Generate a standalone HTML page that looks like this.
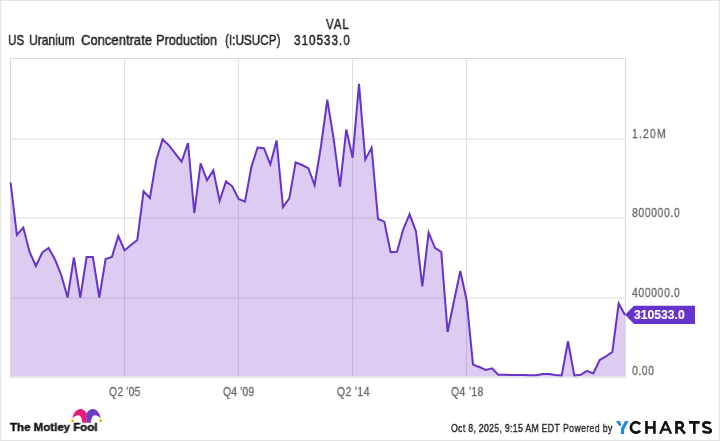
<!DOCTYPE html>
<html><head><meta charset="utf-8">
<style>
html,body{margin:0;padding:0;background:#fff;}
body{width:720px;height:441px;overflow:hidden;position:relative;font-family:"Liberation Sans",sans-serif;}
.frame{position:absolute;left:0;top:0;width:720px;height:441px;box-sizing:border-box;border:1px solid #e3e3e3;}
.t{position:absolute;white-space:nowrap;line-height:1;transform-origin:0 0;will-change:transform;}
.bl{display:inline-block;width:0;height:0;}
svg{position:absolute;left:0;top:0;}
</style></head><body>
<div class="frame"></div>
<svg width="720" height="441" viewBox="0 0 720 441">
  <g stroke="#dedede" stroke-width="1">
    <line x1="11" y1="139" x2="625" y2="139"/>
    <line x1="11" y1="218" x2="625" y2="218"/>
    <line x1="11" y1="298" x2="625" y2="298"/>
    <line x1="124.5" y1="59" x2="124.5" y2="377"/>
    <line x1="238.4" y1="59" x2="238.4" y2="377"/>
    <line x1="352.5" y1="59" x2="352.5" y2="377"/>
    <line x1="466.5" y1="59" x2="466.5" y2="377"/>
  </g>
  <path d="M10.6,182.5 L16.9,235.0 L23.3,227.6 L29.6,252.0 L35.9,266.0 L42.3,252.5 L48.6,248.0 L54.9,259.2 L61.3,275.2 L67.6,297.5 L73.9,257.3 L80.3,297.5 L86.6,257.0 L92.9,257.0 L99.3,297.5 L105.6,259.0 L111.9,257.0 L118.3,236.0 L124.6,250.4 L130.9,245.0 L137.3,240.0 L143.6,191.2 L149.9,198.0 L156.3,160.0 L162.6,139.3 L169.0,145.4 L175.3,153.6 L181.6,161.7 L188.0,143.0 L194.3,213.0 L200.6,163.4 L207.0,180.3 L213.3,170.4 L219.6,200.8 L226.0,181.4 L232.3,186.3 L238.6,199.0 L245.0,201.7 L251.3,167.2 L257.6,147.6 L264.0,148.2 L270.3,164.4 L276.6,140.6 L283.0,207.0 L289.3,198.4 L295.6,162.4 L302.0,165.0 L308.3,168.2 L314.6,185.1 L321.0,146.0 L327.3,99.6 L333.6,138.6 L340.0,186.7 L346.3,129.4 L352.6,157.8 L359.0,83.8 L365.3,159.6 L371.6,147.6 L378.0,219.0 L384.3,221.6 L390.6,252.2 L397.0,251.7 L403.3,229.0 L409.6,214.3 L416.0,231.5 L422.3,286.5 L428.6,232.7 L435.0,247.8 L441.3,252.0 L447.6,332.0 L454.0,301.0 L460.3,271.0 L466.6,300.0 L473.0,364.6 L479.3,367.0 L485.7,370.0 L492.0,368.4 L498.3,374.8 L504.7,374.8 L511.0,374.9 L517.3,375.0 L523.7,375.1 L530.0,375.3 L536.3,375.3 L542.7,374.0 L549.0,374.0 L555.3,375.0 L561.7,375.4 L568.0,341.3 L574.3,375.4 L580.7,374.8 L587.0,370.8 L593.3,373.5 L599.7,360.0 L606.0,356.4 L612.3,352.0 L618.7,303.5 L625.0,314.9 L625.0,376.5 L10.6,376.5 Z" fill="#7333cb" fill-opacity="0.25"/>
  <rect x="10.5" y="58.5" width="615" height="318.7" fill="none" stroke="#dadada" stroke-width="1"/>
  <path d="M10.6,182.5 L16.9,235.0 L23.3,227.6 L29.6,252.0 L35.9,266.0 L42.3,252.5 L48.6,248.0 L54.9,259.2 L61.3,275.2 L67.6,297.5 L73.9,257.3 L80.3,297.5 L86.6,257.0 L92.9,257.0 L99.3,297.5 L105.6,259.0 L111.9,257.0 L118.3,236.0 L124.6,250.4 L130.9,245.0 L137.3,240.0 L143.6,191.2 L149.9,198.0 L156.3,160.0 L162.6,139.3 L169.0,145.4 L175.3,153.6 L181.6,161.7 L188.0,143.0 L194.3,213.0 L200.6,163.4 L207.0,180.3 L213.3,170.4 L219.6,200.8 L226.0,181.4 L232.3,186.3 L238.6,199.0 L245.0,201.7 L251.3,167.2 L257.6,147.6 L264.0,148.2 L270.3,164.4 L276.6,140.6 L283.0,207.0 L289.3,198.4 L295.6,162.4 L302.0,165.0 L308.3,168.2 L314.6,185.1 L321.0,146.0 L327.3,99.6 L333.6,138.6 L340.0,186.7 L346.3,129.4 L352.6,157.8 L359.0,83.8 L365.3,159.6 L371.6,147.6 L378.0,219.0 L384.3,221.6 L390.6,252.2 L397.0,251.7 L403.3,229.0 L409.6,214.3 L416.0,231.5 L422.3,286.5 L428.6,232.7 L435.0,247.8 L441.3,252.0 L447.6,332.0 L454.0,301.0 L460.3,271.0 L466.6,300.0 L473.0,364.6 L479.3,367.0 L485.7,370.0 L492.0,368.4 L498.3,374.8 L504.7,374.8 L511.0,374.9 L517.3,375.0 L523.7,375.1 L530.0,375.3 L536.3,375.3 L542.7,374.0 L549.0,374.0 L555.3,375.0 L561.7,375.4 L568.0,341.3 L574.3,375.4 L580.7,374.8 L587.0,370.8 L593.3,373.5 L599.7,360.0 L606.0,356.4 L612.3,352.0 L618.7,303.5 L625.0,314.9" fill="none" stroke="#6633cc" stroke-width="2" stroke-linejoin="miter"/>
  <path d="M625,314.8 L634,305.8 L695,305.8 L695,323.9 L634,323.9 Z" fill="#6633cc"/>
  <g fill="#1b87e6">
    <path d="M616.1,421.1 L619.8,421.1 L621.3,424.7 Q621,426.6 619.3,425.9 Z"/>
    <path d="M625,421.1 L628.5,421.1 L624.1,429.3 L624.1,433.9 L621,433.9 L621,428.6 Z"/>
  </g>
  <g fill="none" stroke="#111" stroke-width="2.65" stroke-linecap="butt" stroke-linejoin="miter">
    <path d="M640.1,424.1 A5.2,5.2 0 1 0 640.1,430.7"/>
    <path d="M646.5,421.1 V433.7 M654.4,421.1 V433.7 M646.5,427.5 H654.4"/>
    <path d="M659,433.7 L664.5,421.1 L666.7,421.1 L672.2,433.7 L669.6,433.7 L668.4,430.8 L662.8,430.8 L661.6,433.7 Z M663.7,428.6 L665.6,424.2 L667.5,428.6 Z" fill="#111" stroke="none" fill-rule="evenodd"/>
    <path d="M676.5,433.7 V422.3 H680 A2.85,2.85 0 0 1 680,428 H676.5 M680,428 L685,433.7"/>
    <path d="M689,422.3 H699.7 M694.35,422.3 V433.7"/>
    <path d="M710.5,423.8 C709.8,422.7 708.4,422.3 707,422.3 C704.8,422.3 703.3,423.3 703.3,425 C703.3,426.8 705.2,427.3 707,427.8 C709,428.3 710.8,429 710.8,430.9 C710.8,432.5 709,432.5 707,432.5 C705.2,432.5 703.6,432 702.8,430.8"/>
  </g>
  <g>
    <path d="M72.3,418.3 C73.5,413 76.5,409 80.5,409 C83.5,409 85.8,411.5 86.7,413.5 L86.7,422.8 L82.3,422.8 C81.9,418.5 80.8,415.2 78.4,415.2 C76,415.2 73.8,416.8 72.3,418.3 Z" fill="#e81c78"/>
    <path d="M100.9,418.3 C99.7,413 96.7,409 92.7,409 C89.7,409 87.4,411.5 86.5,413.5 L86.5,422.8 L90.9,422.8 C91.3,418.5 92.4,415.2 94.8,415.2 C97.2,415.2 99.4,416.8 100.9,418.3 Z" fill="#6e3cbe"/>
    <circle cx="72.6" cy="420.8" r="1.5" fill="#f5b400"/>
    <circle cx="100.7" cy="420.8" r="1.5" fill="#f5b400"/>
  </g>
</svg>
<div class="t" id="ttl1" style="left:8.30px;top:32.51px;font-size:14.5px;font-weight:400;color:#212121;transform:scaleX(0.8014);letter-spacing:0.000px;-webkit-text-stroke:0.45px #212121;">US<i class="bl"></i></div>
<div class="t" id="ttl2" style="left:29.30px;top:32.51px;font-size:14.5px;font-weight:400;color:#212121;transform:scaleX(0.8342);letter-spacing:0.000px;-webkit-text-stroke:0.45px #212121;">Uranium<i class="bl"></i></div>
<div class="t" id="ttl3" style="left:80.50px;top:32.51px;font-size:14.5px;font-weight:400;color:#212121;transform:scaleX(0.8987);letter-spacing:0.000px;-webkit-text-stroke:0.45px #212121;">Concentrate<i class="bl"></i></div>
<div class="t" id="ttl4" style="left:155.90px;top:32.51px;font-size:14.5px;font-weight:400;color:#212121;transform:scaleX(0.8795);letter-spacing:0.000px;-webkit-text-stroke:0.45px #212121;">Production<i class="bl"></i></div>
<div class="t" id="ttl5" style="left:224.80px;top:32.51px;font-size:14.5px;font-weight:400;color:#212121;transform:scaleX(0.8095);letter-spacing:0.000px;-webkit-text-stroke:0.45px #212121;">(I:USUCP)<i class="bl"></i></div>
<div class="t" id="val" style="left:294.20px;top:32.51px;font-size:14.5px;font-weight:400;color:#212121;transform:scaleX(0.8000);letter-spacing:1.324px;-webkit-text-stroke:0.45px #212121;">310533.0<i class="bl"></i></div>
<div class="t" id="valh" style="left:326.40px;top:16.51px;font-size:14.5px;font-weight:400;color:#212121;transform:scaleX(0.8000);letter-spacing:1.120px;-webkit-text-stroke:0.45px #212121;">VAL<i class="bl"></i></div>
<div class="t" id="y12" style="left:631.60px;top:126.51px;font-size:13px;font-weight:400;color:#666666;transform:scaleX(0.8000);letter-spacing:1.461px;-webkit-text-stroke:0.3px #666666;">1.20M<i class="bl"></i></div>
<div class="t" id="y800" style="left:632.00px;top:205.91px;font-size:13px;font-weight:400;color:#666666;transform:scaleX(0.8000);letter-spacing:0.779px;-webkit-text-stroke:0.3px #666666;">800000.0<i class="bl"></i></div>
<div class="t" id="y400" style="left:632.00px;top:285.91px;font-size:13px;font-weight:400;color:#666666;transform:scaleX(0.8000);letter-spacing:0.800px;-webkit-text-stroke:0.3px #666666;">400000.0<i class="bl"></i></div>
<div class="t" id="y0" style="left:632.40px;top:364.41px;font-size:13px;font-weight:400;color:#666666;transform:scaleX(0.8000);letter-spacing:0.759px;-webkit-text-stroke:0.3px #666666;">0.00<i class="bl"></i></div>
<div class="t" id="q205" style="left:109.00px;top:384.51px;font-size:13px;font-weight:400;color:#666666;transform:scaleX(0.8000);letter-spacing:0.276px;-webkit-text-stroke:0.3px #666666;">Q2 '05<i class="bl"></i></div>
<div class="t" id="q409" style="left:223.20px;top:384.51px;font-size:13px;font-weight:400;color:#666666;transform:scaleX(0.8000);letter-spacing:0.219px;-webkit-text-stroke:0.3px #666666;">Q4 '09<i class="bl"></i></div>
<div class="t" id="q214" style="left:336.80px;top:384.51px;font-size:13px;font-weight:400;color:#666666;transform:scaleX(0.8000);letter-spacing:0.547px;-webkit-text-stroke:0.3px #666666;">Q2 '14<i class="bl"></i></div>
<div class="t" id="q418" style="left:451.40px;top:384.51px;font-size:13px;font-weight:400;color:#666666;transform:scaleX(0.8000);letter-spacing:0.498px;-webkit-text-stroke:0.3px #666666;">Q4 '18<i class="bl"></i></div>
<div class="t" id="foot1" style="left:451.00px;top:423.00px;font-size:11.8px;font-weight:400;color:#212121;transform:scaleX(0.7400);letter-spacing:0.404px;-webkit-text-stroke:0.4px #212121;">Oct 8, 2025, 9:15 AM EDT<i class="bl"></i></div>
<div class="t" id="foot2" style="left:563.25px;top:423.00px;font-size:11.8px;font-weight:400;color:#212121;transform:scaleX(0.7400);letter-spacing:0.483px;-webkit-text-stroke:0.4px #212121;">Powered by<i class="bl"></i></div>
<div class="t" id="tagt" style="left:634.00px;top:308.91px;font-size:12px;font-weight:700;color:#ffffff;transform:scaleX(1.0130);letter-spacing:0.000px;-webkit-text-stroke:0.15px #ffffff;">310533.0<i class="bl"></i></div>
<div class="t" id="fool" style="left:10.20px;top:420.80px;font-size:11.6px;font-weight:700;color:#111111;transform:scaleX(0.9921);letter-spacing:0.000px;-webkit-text-stroke:0.4px #111111;">The Motley Fool<i class="bl"></i></div>
</body></html>
